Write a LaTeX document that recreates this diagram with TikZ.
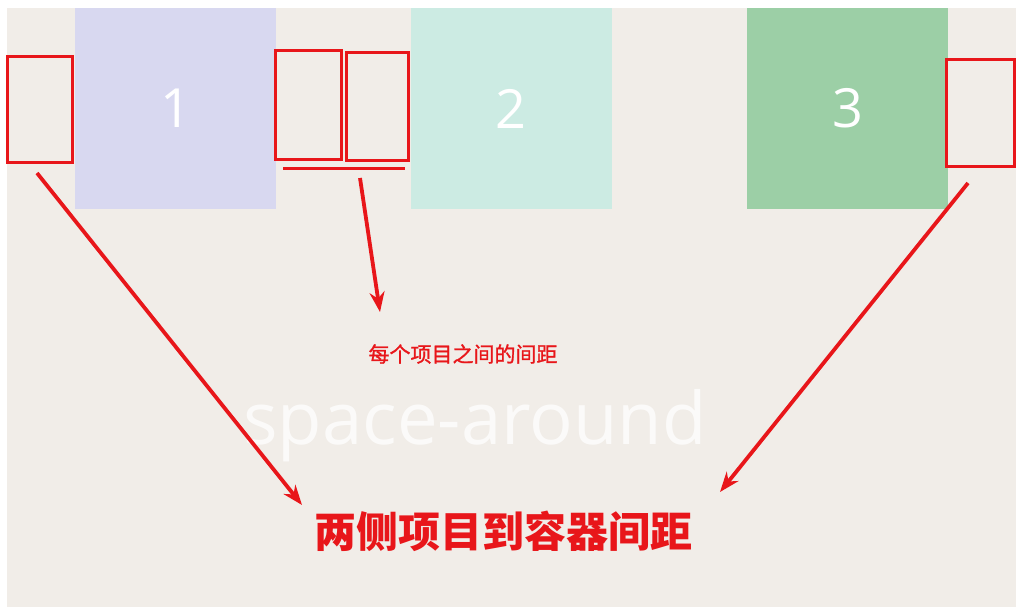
\documentclass[tikz,border=0pt]{standalone}
\usepackage{fontspec}
\setmainfont{Open Sans}
\newfontfamily\cjk{Noto Sans CJK SC}
\newfontfamily\cjkm[FakeBold=1.2]{Noto Sans CJK SC}
\usetikzlibrary{arrows.meta}
\definecolor{bg}{HTML}{F1EDE8}
\definecolor{ca}{HTML}{D8D8F0}
\definecolor{cb}{HTML}{CCEBE3}
\definecolor{cc}{HTML}{9CCFA6}
\definecolor{rd}{HTML}{E8161A}
\tikzset{
  item/.style={draw=none, minimum width=201pt, minimum height=201pt, inner sep=0pt, text=white, font=\fontsize{54}{54}\selectfont},
  gap/.style={draw=rd, line width=3pt, inner sep=0pt, fill=none},
  arr/.style={draw=rd, line width=3.8pt, -{Stealth[length=20pt,width=15pt]}},
}
\begin{document}
\begin{tikzpicture}[x=1pt,y=-1pt]
\useasboundingbox (0,0) rectangle (1016,614);
\fill[white] (0,0) rectangle (1016,614);
\fill[bg] (7,8) rectangle (1016,607);
\node[item, fill=ca] (i1) at (175.5,108.5) {1};
\node[item, fill=cb] (i2) at (511,108.5) {2};
\node[item, fill=cc] (i3) at (847.5,108.5) {3};
\node[gap, minimum width=65pt, minimum height=106pt] (g1) at (39.5,109) {};
\node[gap, minimum width=66pt, minimum height=109pt] (g2) at (308,104.5) {};
\node[gap, minimum width=62pt, minimum height=108pt] (g3) at (377,106) {};
\node[gap, minimum width=68pt, minimum height=107pt] (g4) at (980,112.5) {};
\coordinate (u1) at (283,168);
\coordinate (u2) at (405,168);
\draw[rd, line width=3pt] (u1) -- (u2);
\node[text=white, opacity=0.75, font=\fontsize{72.5}{72.5}\selectfont, anchor=base] (sa) at (475,444) {space-around};
\node[text=rd, font=\cjkm\fontsize{21}{21}\selectfont] (t1) at (463,354) {每个项目之间的间距};
\node[text=rd, font=\cjk\bfseries\fontsize{42}{42}\selectfont] (t2) at (503,531) {两侧项目到容器间距};
\coordinate (a1) at (37,173);
\coordinate (a1e) at (302,505);
\coordinate (a2) at (360,178);
\coordinate (a2e) at (380,312);
\coordinate (a3) at (968,183);
\coordinate (a3e) at (720,492);
\draw[arr] (a1) -- (a1e);
\draw[arr] (a2) -- (a2e);
\draw[arr] (a3) -- (a3e);
\end{tikzpicture}
\end{document}
